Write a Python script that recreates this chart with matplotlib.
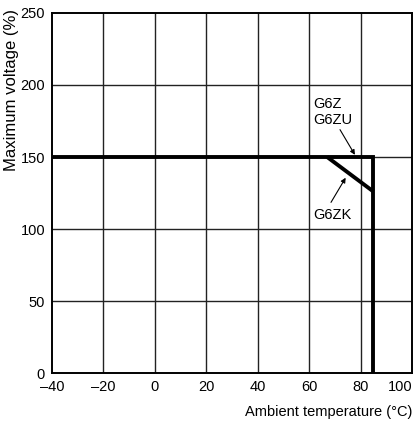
import matplotlib.pyplot as plt

plt.rcParams['font.family'] = ['Liberation Sans', 'DejaVu Sans']

# main curve (G6Z / G6ZU)
temp_main = [-40, 85, 85]
volt_main = [150, 150, 0]
# derating for G6ZK
temp_zk = [67, 85]
volt_zk = [150, 126]

xticks = [-40, -20, 0, 20, 40, 60, 80, 100]
xtick_labels = ['\u201340', '\u201320', '0', '20', '40', '60', '80', '100']
yticks = [0, 50, 100, 150, 200, 250]

fig = plt.figure(figsize=(4.15, 4.23), dpi=100)
ax = fig.add_axes([52 / 415, 1 - 373 / 423, 360 / 415, 360 / 423])

ax.set_xlim(-40, 100)
ax.set_ylim(0, 250)

# grille
for xv in xticks[1:-1]:
    ax.axvline(xv, color='#222222', lw=1.0, zorder=1)
for yv in yticks[1:-1]:
    ax.axhline(yv, color='#222222', lw=1.0, zorder=1)

ax.plot(temp_main, volt_main, color='black', lw=2.8, solid_joinstyle='miter', zorder=3)
ax.plot(temp_zk, volt_zk, color='black', lw=2.8, solid_capstyle='butt', zorder=3)

for s in ax.spines.values():
    s.set_linewidth(1.4)

ax.set_xticks(xticks)
ax.set_xticklabels(xtick_labels, fontsize=10.5)
ax.set_yticks(yticks)
ax.set_yticklabels([str(v) for v in yticks], fontsize=10.5)
ax.tick_params(length=0, pad=5)
ax.get_xticklabels()[-1].set_horizontalalignment('right')

# annotations
arrow = dict(arrowstyle='-|>', color='black', lw=0.8, mutation_scale=7,
             shrinkA=0, shrinkB=0)
ax.text(61.5, 181, 'G6Z\nG6ZU', fontsize=10.5, ha='left', va='center',
        linespacing=1.2)
ax.annotate('', xy=(77.8, 151.5), xytext=(72, 169), arrowprops=arrow)
ax.text(69, 110, 'G6ZK', fontsize=10.5, ha='center', va='center')
ax.annotate('', xy=(74.2, 135.6), xytext=(68.5, 118.5), arrowprops=arrow)

fig.text(12 / 415, 1 - 90 / 423, 'Maximum voltage (%)', rotation=90,
         ha='center', va='center', fontsize=12)
fig.text(412 / 415, 1 - 412 / 423, 'Ambient temperature (\u00b0C)',
         ha='right', va='center', fontsize=10.5)

plt.savefig('out.png', dpi=100)
